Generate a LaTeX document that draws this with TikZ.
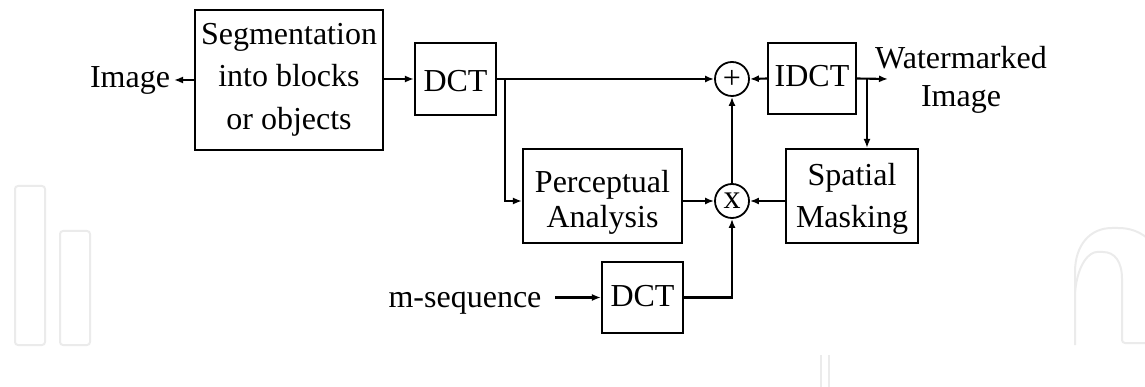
\documentclass[tikz,border=0pt]{standalone}
\usepackage{fontspec}
\setmainfont{Liberation Serif}
\usetikzlibrary{arrows.meta}
\begin{document}
\begin{tikzpicture}[x=1pt,y=-1pt,
  box/.style={draw,line width=2.1pt,inner sep=0pt,align=center,font=\fontsize{32}{40}\selectfont},
  sumnode/.style={circle,draw,line width=1.8pt,minimum size=34pt,inner sep=0pt},
  conn/.style={line width=2.1pt,-{Latex[length=9pt,width=7pt]}},
  lbl/.style={inner sep=0pt,align=center},
  wm/.style={draw=black!8,line width=2pt,rounded corners=3pt}]
\useasboundingbox (0,0) rectangle (1145,387);
% faint background watermark
\begin{scope}
\clip (0,0) rectangle (1145,387);
\draw[wm] (15,186) rectangle (45,345);
\draw[wm] (60,231) rectangle (90,345);
\draw[wm] (1075,345) -- (1075,275) .. controls (1075,245) and (1090,228) .. (1115,228) .. controls (1135,228) and (1145,235) .. (1155,245);
\draw[wm] (1075,292) .. controls (1078,262) and (1090,252) .. (1100,252) .. controls (1115,252) and (1122,262) .. (1122,282) -- (1122,343) -- (1150,343);
\draw[wm] (821,355) -- (821,390);
\draw[wm] (829,355) -- (829,390);
\end{scope}
% blocks
\node[box,minimum width=188pt,minimum height=140pt] (seg) at (289,80) {};
\node[box,minimum width=81pt,minimum height=72pt,text height=26pt,text depth=0pt] (dct1) at (455.5,79) {DCT};
\node[box,minimum width=88pt,minimum height=71pt,text height=22pt,text depth=5pt] (idct) at (812,78.5) {IDCT};
\node[box,minimum width=159pt,minimum height=94pt] (perc) at (602.5,196) {};
\node[box,minimum width=132pt,minimum height=94pt] (spat) at (852,196) {};
\node[box,minimum width=81pt,minimum height=71pt,text height=22pt,text depth=5pt] (dct2) at (642.5,297.5) {DCT};
\node[sumnode,font=\fontsize{32}{32}\selectfont] (plus) at (732,79) {+};
\node[sumnode,font=\fontsize{34}{34}\selectfont] (times) at (732,201) {x};
% texts of the multi-line blocks
\node[lbl,anchor=north,font=\fontsize{32}{42.5}\selectfont] (segt) at (289,23) {Segmentation\\into blocks\\or objects};
\node[lbl,anchor=north,font=\fontsize{32}{35}\selectfont] (perct) at (602.5,170) {Perceptual\\Analysis};
\node[lbl,anchor=north,font=\fontsize{32}{42}\selectfont] (spatt) at (852,163) {Spatial\\Masking};
% labels
\node[lbl,anchor=base,font=\fontsize{32}{32}\selectfont] (img) at (130,88) {Image};
\node[lbl,anchor=base,font=\fontsize{32}{32}\selectfont] (mseq) at (465,307) {m-sequence};
\node[lbl,anchor=north,font=\fontsize{32}{38}\selectfont] (wml) at (961,46) {Watermarked\\Image};
% helper points
\coordinate (br) at (505,79);
\coordinate (tap) at (867,79);
\coordinate (wmend) at (888,79);
\coordinate (imgend) at (174,80);
\coordinate (msstart) at (555,297.5);
% connectors
\draw[conn] (seg.west) -- (imgend);
\draw[conn] (seg.east |- dct1.west) -- (dct1.west);
\draw[conn] (dct1.east) -- (plus.west);
\draw[conn] (br) |- (perc.west |- times.west);
\draw[conn] (idct.west) -- (plus.east);
\draw[conn] (idct.east) -- (wmend);
\draw[conn] (tap) -- (tap |- spat.north);
\draw[conn] (perc.east |- times.west) -- (times.west);
\draw[conn] (spat.west |- times.east) -- (times.east);
\draw[conn] (times.north) -- (plus.south);
\draw[conn] (msstart) -- (dct2.west);
\draw[conn] (dct2.east) -| (times.south);
\end{tikzpicture}
\end{document}
